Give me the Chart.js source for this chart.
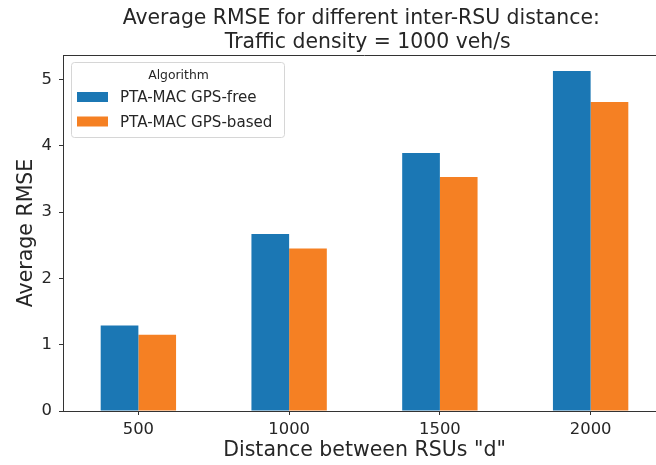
<!DOCTYPE html>
<html>
<head>
<meta charset="utf-8">
<script src="https://cdn.jsdelivr.net/npm/chart.js@4/dist/chart.umd.min.js"></script>
<style>
  html, body { margin: 0; padding: 0; background: #ffffff; overflow: hidden; }
  #wrap { width: 670px; height: 465px; }
  canvas { display: block; }
</style>
</head>
<body>
<div id="wrap"><canvas id="c" width="670" height="465"></canvas></div>
<script>
// ---- data ----
const categories = ["500", "1000", "1500", "2000"];
const gpsFree = [1.29, 2.67, 3.89, 5.13];
const gpsBased = [1.15, 2.45, 3.53, 4.66];
const seriesNames = ["PTA-MAC GPS-free", "PTA-MAC GPS-based"];
const yTicks = [0, 1, 2, 3, 4, 5];
const titleLines = ["Average RMSE for different inter-RSU distance: ", " Traffic density = 1000 veh/s"];
const legendTitle = "Algorithm";
const xLabel = 'Distance between RSUs "d"';
const yLabel = "Average RMSE";

const FONT = "'DejaVu Sans', sans-serif";
const AXIS = "#333333";

const titlePlugin = {
  id: 'axesTitle',
  afterDraw(chart) {
    const ctx = chart.ctx, a = chart.chartArea;
    const cx = (a.left + a.right) / 2;
    ctx.save();
    ctx.fillStyle = "#262626";
    ctx.font = "20.4px " + FONT;
    ctx.textAlign = "center";
    ctx.textBaseline = "alphabetic";
    ctx.fillText(titleLines[0], cx, 24);
    ctx.fillText(titleLines[1], cx, 48);
    // top spine
    ctx.strokeStyle = AXIS;
    ctx.lineWidth = 1;
    ctx.beginPath();
    ctx.moveTo(a.left, a.top + 0.5);
    ctx.lineTo(a.right, a.top + 0.5);
    ctx.stroke();
    ctx.restore();
  }
};

const legendPlugin = {
  id: 'boxLegend',
  afterDraw(chart) {
    const ctx = chart.ctx, a = chart.chartArea;
    const x = a.left + 8, y = a.top + 7, w = 213, h = 75, r = 3;
    ctx.save();
    ctx.fillStyle = "rgba(255,255,255,0.8)";
    ctx.strokeStyle = "#d6d6d6";
    ctx.lineWidth = 1;
    ctx.beginPath();
    ctx.roundRect(x + 0.5, y + 0.5, w, h, r);
    ctx.fill();
    ctx.stroke();
    ctx.fillStyle = "#262626";
    ctx.font = "12.4px " + FONT;
    ctx.textAlign = "center";
    ctx.textBaseline = "alphabetic";
    ctx.fillText(legendTitle, x + w / 2 + 1, y + 17);
    ctx.textAlign = "left";
    ctx.font = "15.1px " + FONT;
    chart.data.datasets.forEach((ds, i) => {
      const sy = y + 30 + i * 24.5;
      ctx.fillStyle = ds.backgroundColor;
      ctx.fillRect(x + 6, sy, 31, 10);
      ctx.fillStyle = "#262626";
      ctx.fillText(ds.label, x + 49, sy + 10.3);
    });
    ctx.restore();
  }
};

new Chart(document.getElementById('c'), {
  type: 'bar',
  data: {
    labels: categories,
    datasets: [
      { label: seriesNames[0], data: gpsFree, backgroundColor: '#1b77b4', borderWidth: 0 },
      { label: seriesNames[1], data: gpsBased, backgroundColor: '#f58023', borderWidth: 0 }
    ]
  },
  options: {
    responsive: false,
    animation: false,
    events: [],
    layout: { padding: { top: 55, right: 4, bottom: 0, left: 0 } },
    categoryPercentage: 0.5,
    barPercentage: 1.0,
    plugins: {
      legend: { display: false },
      title: { display: false },
      tooltip: { enabled: false }
    },
    scales: {
      x: {
        grid: { display: true, offset: false, drawOnChartArea: false, drawTicks: true, tickLength: 4, color: AXIS, lineWidth: 1 },
        border: { display: true, color: AXIS, width: 1 },
        ticks: { color: "#262626", font: { family: FONT, size: 16.4 }, padding: 5, maxRotation: 0 },
        title: { display: true, text: xLabel, color: "#262626", font: { family: FONT, size: 20.5 }, padding: { top: 0, bottom: 2.4 } },
        afterFit(scale) { scale.height = 54; }
      },
      y: {
        min: 0,
        max: 5.37,
        afterBuildTicks(scale) { scale.ticks = yTicks.map(v => ({ value: v })); },
        grid: { display: true, drawOnChartArea: false, drawTicks: true, tickLength: 4, color: AXIS, lineWidth: 1 },
        border: { display: true, color: AXIS, width: 1 },
        ticks: { color: "#262626", font: { family: FONT, size: 16.4 }, padding: 7 },
        title: { display: true, text: yLabel, color: "#262626", font: { family: FONT, size: 20.5 }, padding: { top: 14.7, bottom: 0 } },
        afterFit(scale) { scale.width = 63; }
      }
    }
  },
  plugins: [titlePlugin, legendPlugin]
});
</script>
</body>
</html>
